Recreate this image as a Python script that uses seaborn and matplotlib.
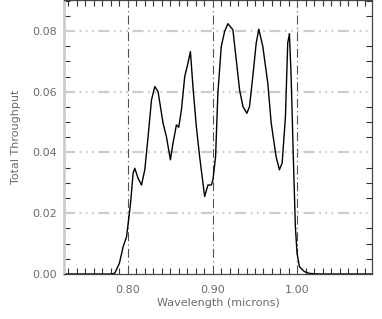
import matplotlib
matplotlib.use("Agg")
import matplotlib.pyplot as plt
from matplotlib.ticker import MultipleLocator, FixedLocator
import seaborn as sns
import pandas as pd

wavelength = [0.7247, 0.7812, 0.7847, 0.7900, 0.7945, 0.7985, 0.8004, 0.8032, 0.8062,
              0.8082, 0.8121, 0.8161, 0.8200, 0.8239, 0.8279, 0.8318, 0.8356, 0.8415,
              0.8455, 0.8502, 0.8533, 0.8573, 0.8600, 0.8632, 0.8671, 0.8709, 0.8738,
              0.8768, 0.8808, 0.8847, 0.8906, 0.8945, 0.8985, 0.9004, 0.9035, 0.9062,
              0.9102, 0.9141, 0.9180, 0.9239, 0.9279, 0.9318, 0.9358, 0.9404, 0.9435,
              0.9474, 0.9514, 0.9545, 0.9592, 0.9651, 0.9691, 0.9749, 0.9788, 0.9820,
              0.9859, 0.9886, 0.9906, 0.9926, 0.9953, 0.9976, 0.9996, 1.0024, 1.0082,
              1.0141, 1.0260, 1.0880]
throughput = [0.0, 0.0, 0.0003, 0.0035, 0.0090, 0.0123, 0.0167, 0.0233, 0.0332,
              0.0348, 0.0315, 0.0293, 0.0343, 0.0452, 0.0573, 0.0617, 0.0601, 0.0497,
              0.0452, 0.0376, 0.0431, 0.0491, 0.0483, 0.0540, 0.0650, 0.0694, 0.0732,
              0.0617, 0.0485, 0.0386, 0.0255, 0.0293, 0.0293, 0.0310, 0.0386, 0.0595,
              0.0749, 0.0798, 0.0824, 0.0804, 0.0705, 0.0606, 0.0551, 0.0529, 0.0551,
              0.0650, 0.0760, 0.0806, 0.0749, 0.0628, 0.0497, 0.0386, 0.0343, 0.0365,
              0.0518, 0.0760, 0.0791, 0.0650, 0.0376, 0.0156, 0.0068, 0.0024, 0.0008,
              0.0002, 0.0, 0.0]

x_ticks = [0.80, 0.90, 1.00]
x_tick_labels = ["0.80", "0.90", "1.00"]
y_ticks = [0.00, 0.02, 0.04, 0.06, 0.08]
y_tick_labels = ["0.00", "0.02", "0.04", "0.06", "0.08"]

sns.set_theme(style="white")
plt.rcParams['font.family'] = ['DejaVu Sans']

text_color = "#6a6a6a"

fig = plt.figure(figsize=(3.82, 3.19), dpi=100)
ax = fig.add_axes([64 / 382, 45 / 319, (372 - 64) / 382, 274 / 319])

df = pd.DataFrame({"wl": wavelength, "tp": throughput})
sns.lineplot(data=df, x="wl", y="tp", ax=ax, color="black", linewidth=1.0)

ax.set_xlim(0.7247, 1.088)
ax.set_ylim(0.0, 0.0902)

# grid lines
for v in x_ticks:
    ax.axvline(v, color="#505050", linewidth=0.8, dashes=(8, 3, 1, 3), zorder=1)
for h in y_ticks[1:]:
    ax.axhline(h, color="#cccccc", linewidth=1.6, dashes=(5, 2, 0.8, 2, 0.8, 2, 0.8, 2), zorder=1)

ax.xaxis.set_major_locator(FixedLocator(x_ticks))
ax.set_xticklabels(x_tick_labels)
ax.yaxis.set_major_locator(FixedLocator(y_ticks))
ax.set_yticklabels(y_tick_labels)
ax.xaxis.set_minor_locator(MultipleLocator(0.01))
ax.yaxis.set_minor_locator(MultipleLocator(0.005))

ax.tick_params(axis="both", which="both", direction="in", top=True, right=True,
               bottom=True, left=True, colors="#333333", labelcolor=text_color,
               labelsize=8)
ax.tick_params(axis="both", which="major", length=0, width=0.8)
ax.tick_params(axis="both", which="minor", length=4, width=0.8)
ax.tick_params(axis="x", which="major", pad=8)
ax.tick_params(axis="y", which="major", pad=5)

ax.set_xlabel("Wavelength (microns)", color=text_color, fontsize=8, labelpad=2)
ax.set_ylabel("Total Throughput", color=text_color, fontsize=8, labelpad=8)

for side in ["bottom", "right", "top"]:
    ax.spines[side].set_visible(True)
    ax.spines[side].set_color("#444444")
    ax.spines[side].set_linewidth(0.9)
ax.spines["left"].set_visible(True)
ax.spines["left"].set_color("#cccccc")
ax.spines["left"].set_linewidth(2.0)

ax.set_facecolor("white")
fig.patch.set_facecolor("white")

fig.savefig("out.png", dpi=100)
